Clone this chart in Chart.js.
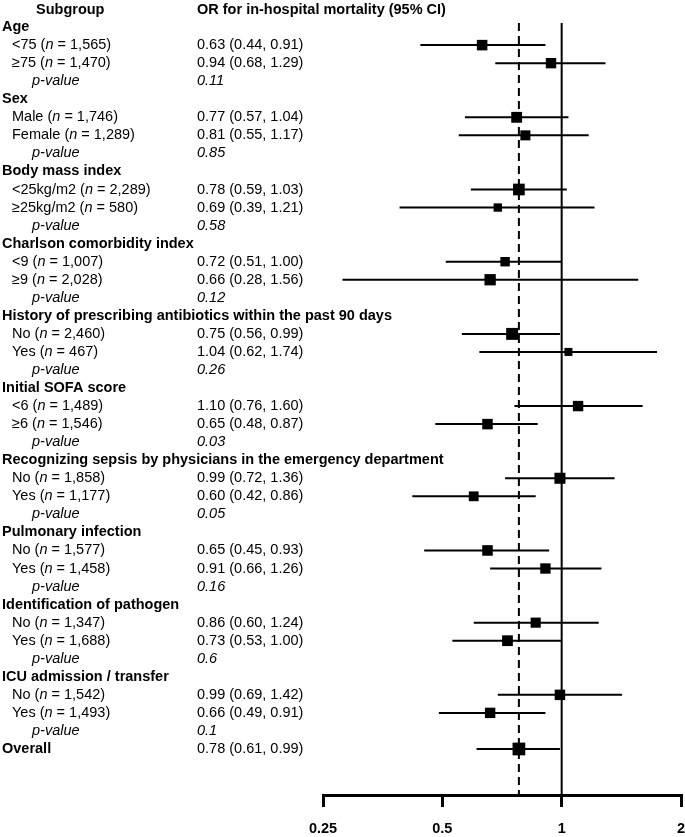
<!DOCTYPE html>
<html><head><meta charset="utf-8">
<script src="https://cdn.jsdelivr.net/npm/chart.js@4"></script>
<style>html,body{margin:0;padding:0;background:#fff}canvas{display:block}</style>
</head><body>
<canvas id="c" width="685" height="837"></canvas>
<script>
// ---------- data ----------
const headers = ["Subgroup", "OR for in-hospital mortality (95% CI)"];
const groups = ["Age", "Sex", "Body mass index", "Charlson comorbidity index",
  "History of prescribing antibiotics within the past 90 days", "Initial SOFA score",
  "Recognizing sepsis by physicians in the emergency department", "Pulmonary infection",
  "Identification of pathogen", "ICU admission / transfer"];
const subLabels = [["<75","≥75"],["Male","Female"],["<25kg/m2","≥25kg/m2"],["<9","≥9"],["No","Yes"],
  ["<6","≥6"],["No","Yes"],["No","Yes"],["No","Yes"],["No","Yes"]];
const nCounts = [[1565,1470],[1746,1289],[2289,580],[1007,2028],[2460,467],
  [1489,1546],[1858,1177],[1577,1458],[1347,1688],[1542,1493]];
const orValues = [[0.63,0.94],[0.77,0.81],[0.78,0.69],[0.72,0.66],[0.75,1.04],
  [1.10,0.65],[0.99,0.60],[0.65,0.91],[0.86,0.73],[0.99,0.66]];
const ciLower = [[0.44,0.68],[0.57,0.55],[0.59,0.39],[0.51,0.28],[0.56,0.62],
  [0.76,0.48],[0.72,0.42],[0.45,0.66],[0.60,0.53],[0.69,0.49]];
const ciUpper = [[0.91,1.29],[1.04,1.17],[1.03,1.21],[1.00,1.56],[0.99,1.74],
  [1.60,0.87],[1.36,0.86],[0.93,1.26],[1.24,1.00],[1.42,0.91]];
const pValues = ["0.11","0.85","0.58","0.12","0.26","0.03","0.05","0.16","0.6","0.1"];
const overallLabel = ["Overall"];
const overallN = [3035];
const overallOR = [0.78];
const overallLower = [0.61];
const overallUpper = [0.99];
const nullValue = [1];
const tickValues = [0.25, 0.5, 1, 2];
const tickLabels = ["0.25", "0.5", "1", "2"];

// ---------- rows ----------
const rows = [];
let r = 1;
groups.forEach((g, gi) => {
  rows.push({type:'group', row:r++, label:g});
  subLabels[gi].forEach((s, si) => {
    rows.push({type:'item', row:r++, label:s, n:nCounts[gi][si], or:orValues[gi][si],
      lo:ciLower[gi][si], hi:ciUpper[gi][si]});
  });
  rows.push({type:'p', row:r++, p:pValues[gi]});
});
rows.push({type:'overall', row:r++, label:overallLabel[0], n:overallN[0], or:overallOR[0],
  lo:overallLower[0], hi:overallUpper[0]});
const estRows = rows.filter(d => d.type === 'item' || d.type === 'overall');

const Y_MIN = -0.5, Y_MAX = 43.55, LINE_TOP = 0.78;
const boxSide = n => 5 + 0.14 * Math.sqrt(n);

const datasets = [];
datasets.push({
  label: 'OR', data: estRows.map(d => ({x: d.or, y: d.row})),
  showLine: false, pointStyle: 'rect', backgroundColor: '#000', borderColor: '#000',
  pointBorderWidth: 0, pointHoverRadius: 0,
  pointRadius: estRows.map(d => boxSide(d.n) / Math.SQRT2)
});
estRows.forEach(d => datasets.push({
  label: 'CI', data: [{x: d.lo, y: d.row}, {x: d.hi, y: d.row}],
  showLine: true, borderColor: '#000', borderWidth: 2, pointRadius: 0, borderCapStyle: 'butt'
}));
datasets.push({
  label: 'null', data: [{x: nullValue[0], y: LINE_TOP}, {x: nullValue[0], y: Y_MAX}],
  showLine: true, borderColor: '#000', borderWidth: 2, pointRadius: 0
});
datasets.push({
  label: 'overall', data: [{x: overallOR[0], y: LINE_TOP}, {x: overallOR[0], y: Y_MAX}],
  showLine: true, borderColor: '#000', borderWidth: 2, pointRadius: 0, borderDash: [8, 5]
});

const FONT = '"Liberation Sans", Arial, Helvetica, sans-serif';
const FS = 14.5;
const f = (bold, italic) => `${italic ? 'italic ' : ''}${bold ? 'bold ' : ''}${FS}px ${FONT}`;

const textPlugin = {
  id: 'forestText',
  afterDraw(chart) {
    const ctx = chart.ctx, ys = chart.scales.y;
    ctx.save();
    ctx.fillStyle = '#000';
    ctx.textBaseline = 'middle';
    ctx.textAlign = 'left';
    const segs = (parts, x, y) => {
      parts.forEach(([t, fo]) => { ctx.font = fo; ctx.fillText(t, x, y); x += ctx.measureText(t).width; });
    };
    const X_GROUP = 2, X_ITEM = 12, X_P = 32, X_OR = 197;
    const y0 = ys.getPixelForValue(0.08);
    segs([[headers[0], f(true)]], 36, y0);
    segs([[headers[1], f(true)]], X_OR, y0);
    rows.forEach(d => {
      const y = ys.getPixelForValue(d.row);
      if (d.type === 'group') {
        segs([[d.label, f(true)]], X_GROUP, y);
      } else if (d.type === 'item') {
        segs([[d.label + ' (', f()], ['n', f(false, true)], [' = ' + d.n.toLocaleString('en-US') + ')', f()]], X_ITEM, y);
        segs([[`${d.or.toFixed(2)} (${d.lo.toFixed(2)}, ${d.hi.toFixed(2)})`, f()]], X_OR, y);
      } else if (d.type === 'p') {
        segs([['p-value', f(false, true)]], X_P, y);
        segs([[d.p, f(false, true)]], X_OR, y);
      } else {
        segs([[d.label, f(true)]], X_GROUP, y);
        segs([[`${d.or.toFixed(2)} (${d.lo.toFixed(2)}, ${d.hi.toFixed(2)})`, f()]], X_OR, y);
      }
    });
    ctx.restore();
  }
};

const zeroPad = s => { s.paddingLeft = 0; s.paddingRight = 0; s.paddingTop = 0; s.paddingBottom = 0; };

new Chart(document.getElementById('c'), {
  type: 'scatter',
  data: { datasets },
  options: {
    responsive: false, animation: false, devicePixelRatio: 1,
    layout: { autoPadding: false, padding: { left: 323, right: 4, top: 0, bottom: 0 } },
    plugins: { legend: { display: false }, tooltip: { enabled: false } },
    elements: { line: { tension: 0 } },
    scales: {
      x: {
        type: 'logarithmic', position: 'bottom', min: tickValues[0], max: tickValues[tickValues.length - 1],
        afterBuildTicks: s => { s.ticks = tickValues.map(v => ({value: v})); },
        afterFit: s => { s.height = 42; zeroPad(s); },
        ticks: {
          autoSkip: false, maxRotation: 0, padding: 13, color: '#000',
          font: { family: FONT, size: FS, weight: 'bold' },
          callback: (v) => { const i = tickValues.indexOf(v); return i >= 0 ? tickLabels[i] : ''; }
        },
        grid: { display: true, drawOnChartArea: false, drawTicks: true, tickLength: 12, lineWidth: 3, color: '#000' },
        border: { display: true, width: 3, color: '#000' }
      },
      y: { type: 'linear', reverse: true, min: Y_MIN, max: Y_MAX, display: false, afterFit: zeroPad }
    }
  },
  plugins: [textPlugin]
});
</script>
</body></html>
